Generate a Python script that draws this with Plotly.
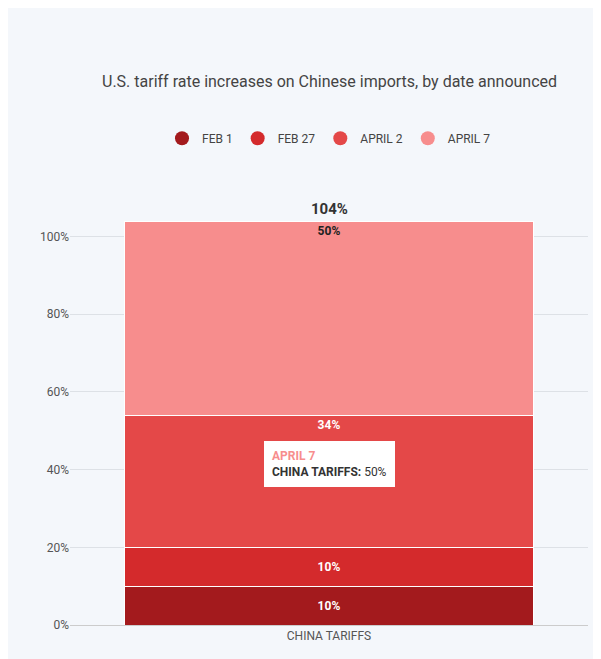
import plotly.graph_objects as go

category = ["CHINA TARIFFS"]
dates = ["FEB 1", "FEB 27", "APRIL 2", "APRIL 7"]
values = [10, 10, 34, 50]
colors = ["#a31a1d", "#d42a2c", "#e44848", "#f78d8d"]
total = sum(values)

fig = go.Figure()
for d, v, c in zip(dates, values, colors):
    fig.add_trace(go.Bar(
        x=category, y=[v], name=d, marker=dict(color=c, line=dict(color="white", width=1)),
        text=[f"<b>{v}%</b>"], textposition="inside",
        insidetextanchor="end" if v > 20 else "middle",
        textfont=dict(color="#222" if d == "APRIL 7" else "white", size=12, family="Roboto"),
        width=0.79, showlegend=False, hoverinfo="skip",
    ))
    # circle legend entries
    fig.add_trace(go.Scatter(x=[None], y=[None], mode="markers", name=d,
                             marker=dict(color=c, size=14, symbol="circle")))

fig.add_annotation(x=category[0], y=total, text=f"<b>{total}%</b>", showarrow=False,
                   yshift=12, font=dict(size=15, color="#333", family="Roboto"))

# tooltip
fig.add_annotation(x=category[0], y=45.2, ax=0, ay=-6, axref="pixel", ayref="pixel",
                   text="", showarrow=True, arrowhead=0, arrowwidth=12, arrowcolor="white")
fig.add_annotation(x=category[0], y=41.5, text="<b><span style='color:#f78d8d'>APRIL 7</span></b><br><b>CHINA TARIFFS:</b> 50%",
                   showarrow=False, align="left", bgcolor="white", borderpad=7, bordercolor="white",
                   font=dict(size=12, color="#333", family="Roboto"))

fig.update_layout(
    barmode="stack",
    width=601, height=659,
    paper_bgcolor="#f4f7fb", plot_bgcolor="#f4f7fb",
    margin=dict(l=62, r=21, t=213, b=42),
    legend=dict(orientation="h", x=0.5, xanchor="center", y=1.205, yanchor="middle", traceorder="normal",
                font=dict(size=12, color="#444", family="Roboto"), itemwidth=30, bgcolor="rgba(0,0,0,0)"),
    font=dict(family="Roboto", color="#555"),
)
fig.add_annotation(text="<b>A BREAKDOWN OF 104% IN CHINA<br>TARIFFS</b>", xref="paper", yref="paper",
                   x=0.5, y=1.62, yanchor="middle", showarrow=False,
                   font=dict(size=33, color="#333", family="Roboto"))
fig.add_annotation(text="U.S. tariff rate increases on Chinese imports, by date announced", xref="paper", yref="paper",
                   x=0.5, y=1.375, showarrow=False, font=dict(size=16, color="#444", family="Roboto"))
fig.update_yaxes(range=[0, 104], tickvals=[0, 20, 40, 60, 80, 100],
                 ticktext=["0%", "20%", "40%", "60%", "80%", "100%"], gridcolor="#dde1e6",
                 zeroline=False, tickfont=dict(size=12, color="#555"), showline=False)
fig.update_xaxes(showline=True, linecolor="#ccc", tickfont=dict(size=12, color="#555"))
fig.write_html("out.html")
